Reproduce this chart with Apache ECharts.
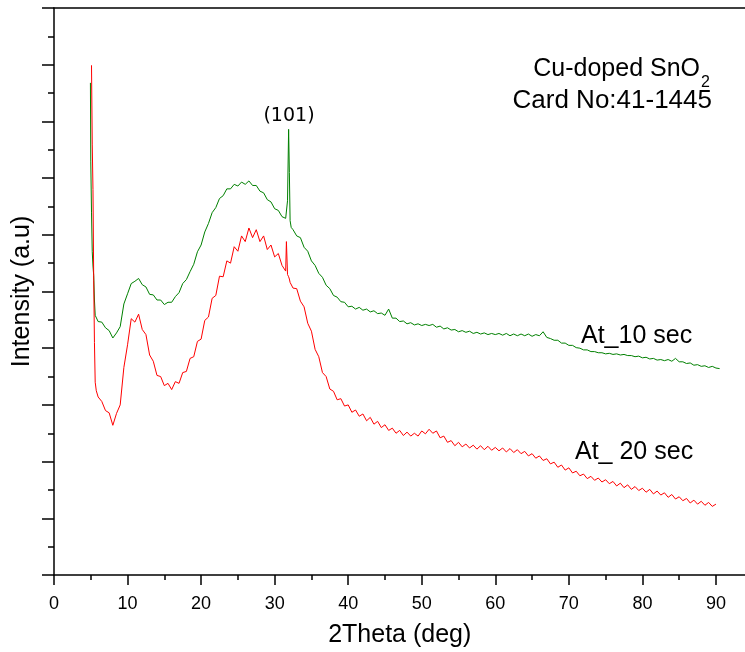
<!DOCTYPE html>
<html>
<head>
<meta charset="utf-8">
<script src="https://cdn.jsdelivr.net/npm/echarts@6/dist/echarts.min.js"></script>
<style>
html,body{margin:0;padding:0;background:#fff;}
#chart{width:745px;height:652px;}
</style>
</head>
<body>
<div id="chart"></div>
<script>
// 2Theta positions (deg)
const twoTheta = [
  4.95, 5.0, 5.1, 5.2, 5.3, 5.4, 5.5, 5.6, 5.75, 6.0,
  6.5, 7.0, 7.5, 8.0, 8.5, 9.0, 9.5, 10.0,
  10.5, 11.0, 11.5, 12.0, 12.5, 13.0, 13.5, 14.0, 14.5, 15.0, 15.5, 16.0, 16.5, 17.0, 17.5, 18.0, 18.5, 19.0, 19.5, 20.0,
  20.5, 21.0, 21.5, 22.0, 22.5, 23.0, 23.5, 24.0, 24.5, 25.0, 25.5, 26.0, 26.5, 27.0, 27.5, 28.0, 28.5, 29.0, 29.5, 30.0,
  30.5, 31.0, 31.5, 31.6, 31.75, 31.9, 32.0, 32.1, 32.25, 32.5, 33.0, 33.5, 34.0, 34.5, 35.0,
  35.5, 36.0, 36.5, 37.0, 37.5, 38.0, 38.5, 39.0, 39.5, 40.0,
  40.5, 41.0, 41.5, 42.0, 42.5, 43.0, 43.5, 44.0, 44.5, 45.0, 45.5, 46.0, 46.5, 47.0, 47.5, 48.0, 48.5, 49.0, 49.5, 50.0,
  50.5, 51.0, 51.5, 52.0, 52.5, 53.0, 53.5, 54.0, 54.5, 55.0, 55.5, 56.0, 56.5, 57.0, 57.5, 58.0, 58.5, 59.0, 59.5, 60.0,
  60.5, 61.0, 61.5, 62.0, 62.5, 63.0, 63.5, 64.0, 64.5, 65.0, 65.5, 66.0, 66.5, 67.0, 67.5, 68.0, 68.5, 69.0, 69.5, 70.0,
  70.5, 71.0, 71.5, 72.0, 72.5, 73.0, 73.5, 74.0, 74.5, 75.0, 75.5, 76.0, 76.5, 77.0, 77.5, 78.0, 78.5, 79.0, 79.5, 80.0,
  80.5, 81.0, 81.5, 82.0, 82.5, 83.0, 83.5, 84.0, 84.5, 85.0, 85.5, 86.0, 86.5, 87.0, 87.5, 88.0, 88.5, 89.0, 89.5, 90.0, 90.5
];
// Intensity (a.u.) At_10 sec (green)
const at10sec = [
  8.68, 7.3, 6.4, 5.7, 5.45, 5.28, 4.85, 4.58, 4.55, 4.47,
  4.46, 4.36, 4.31, 4.18, 4.27, 4.38, 4.78, 4.96,
  5.14, 5.18, 5.23, 5.12, 5.08, 4.95, 4.94, 4.85, 4.85, 4.77, 4.81, 4.81, 4.91, 4.98, 5.14, 5.21, 5.35, 5.48, 5.70, 5.82,
  6.05, 6.20, 6.39, 6.48, 6.64, 6.69, 6.81, 6.81, 6.89, 6.86, 6.93, 6.89, 6.95, 6.87, 6.87, 6.77, 6.74, 6.62, 6.58, 6.46,
  6.43, 6.32, 6.29, 6.26, 6.6, 7.86, 7.1, 6.25, 6.13, 6.09, 5.98, 5.95, 5.78, 5.71, 5.54,
  5.46, 5.32, 5.25, 5.11, 5.05, 4.93, 4.90, 4.82, 4.81, 4.73,
  4.74, 4.69, 4.72, 4.67, 4.69, 4.64, 4.66, 4.61, 4.62, 4.58, 4.69, 4.53, 4.53, 4.47, 4.48, 4.43, 4.45, 4.41, 4.43, 4.40,
  4.42, 4.40, 4.42, 4.37, 4.39, 4.34, 4.36, 4.32, 4.33, 4.29, 4.31, 4.28, 4.30, 4.26, 4.28, 4.25, 4.27, 4.24, 4.26, 4.24,
  4.26, 4.23, 4.26, 4.22, 4.25, 4.22, 4.25, 4.22, 4.25, 4.21, 4.24, 4.22, 4.29, 4.19, 4.17, 4.14, 4.14, 4.09, 4.09, 4.05,
  4.05, 4.01, 4.00, 3.97, 3.97, 3.94, 3.94, 3.92, 3.92, 3.90, 3.91, 3.89, 3.90, 3.88, 3.89, 3.87, 3.87, 3.85, 3.86, 3.83,
  3.84, 3.81, 3.82, 3.79, 3.80, 3.78, 3.80, 3.77, 3.82, 3.76, 3.76, 3.73, 3.74, 3.70, 3.71, 3.68, 3.69, 3.66, 3.68, 3.65, 3.64
];
// Intensity (a.u.) At_ 20 sec (red)
const at20sec = [
  null, null, 8.99, 7.6, 6.8, 5.2, 4.1, 3.4, 3.25, 3.14,
  3.06, 2.90, 2.86, 2.64, 2.85, 3.00, 3.66, 4.06,
  4.52, 4.46, 4.60, 4.33, 4.24, 3.88, 3.77, 3.52, 3.50, 3.34, 3.38, 3.27, 3.41, 3.38, 3.57, 3.59, 3.82, 3.85, 4.12, 4.16,
  4.49, 4.55, 4.88, 4.93, 5.27, 5.26, 5.54, 5.50, 5.79, 5.71, 5.98, 5.88, 6.12, 5.95, 6.09, 5.88, 5.98, 5.74, 5.82, 5.61,
  5.67, 5.46, 5.36, 5.88, 5.30, 5.26, 5.22, 5.16, 5.19, 5.06, 5.05, 4.83, 4.73, 4.44, 4.30,
  3.98, 3.85, 3.57, 3.50, 3.28, 3.24, 3.09, 3.11, 2.98, 3.00,
  2.87, 2.91, 2.80, 2.84, 2.72, 2.78, 2.66, 2.71, 2.60, 2.65, 2.55, 2.59, 2.50, 2.55, 2.46, 2.52, 2.45, 2.50, 2.45, 2.54,
  2.49, 2.57, 2.50, 2.54, 2.42, 2.45, 2.34, 2.37, 2.28, 2.34, 2.26, 2.31, 2.24, 2.29, 2.22, 2.28, 2.21, 2.27, 2.20, 2.25,
  2.19, 2.24, 2.17, 2.23, 2.16, 2.21, 2.14, 2.18, 2.10, 2.14, 2.06, 2.10, 2.02, 2.05, 1.96, 1.99, 1.90, 1.94, 1.85, 1.89,
  1.80, 1.83, 1.75, 1.78, 1.70, 1.74, 1.67, 1.71, 1.64, 1.68, 1.61, 1.65, 1.57, 1.62, 1.54, 1.59, 1.51, 1.56, 1.49, 1.53,
  1.46, 1.51, 1.43, 1.48, 1.41, 1.45, 1.37, 1.42, 1.34, 1.38, 1.31, 1.35, 1.27, 1.32, 1.25, 1.30, 1.23, 1.28, 1.21, 1.25, null
];
const xTickLabels = ['0', '10', '20', '30', '40', '50', '60', '70', '80', '90'];

const FONT = 'Liberation Sans, Arial, sans-serif';
const pairs = (ys) => twoTheta.map((x, i) => [x, ys[i]]).filter(p => p[1] !== null);

const chart = echarts.init(document.getElementById('chart'), null, {renderer: 'canvas'});
chart.setOption({
  animation: false,
  backgroundColor: '#ffffff',
  grid: {left: 54, right: -44.5, top: 8, bottom: 77, containLabel: false, outerBoundsMode: 'none'},
  xAxis: [{
    type: 'value', min: 0, max: 100, interval: 10,
    name: '2Theta (deg)', nameLocation: 'middle', nameGap: 48,
    nameTextStyle: {fontSize: 25, fontFamily: FONT, color: '#000', padding: [0, 44, 0, 0]},
    axisLine: {show: true, lineStyle: {color: '#000', width: 1.5}},
    axisTick: {show: true, inside: false, length: 10, lineStyle: {color: '#000', width: 1.5}},
    minorTick: {show: true, splitNumber: 2, length: 5, lineStyle: {color: '#000', width: 1.5}},
    axisLabel: {show: true, margin: 20, fontSize: 18, fontFamily: FONT, color: '#000',
      formatter: (v) => (xTickLabels.indexOf(String(v)) >= 0 ? String(v) : '')},
    splitLine: {show: false}, minorSplitLine: {show: false}
  }, {
    type: 'value', min: 0, max: 100, position: 'top',
    axisLine: {show: true, lineStyle: {color: '#000', width: 1.5}},
    axisTick: {show: false}, axisLabel: {show: false}, splitLine: {show: false}
  }],
  yAxis: {
    type: 'value', min: 0, max: 10, interval: 1,
    name: 'Intensity (a.u)', nameLocation: 'middle', nameGap: 19,
    nameTextStyle: {fontSize: 25, fontFamily: FONT, color: '#000'},
    axisLine: {show: true, lineStyle: {color: '#000', width: 1.5}},
    axisTick: {show: true, inside: false, length: 12, lineStyle: {color: '#000', width: 1.5}},
    minorTick: {show: true, splitNumber: 2, length: 6, lineStyle: {color: '#000', width: 1.5}},
    axisLabel: {show: false},
    splitLine: {show: false}, minorSplitLine: {show: false}
  },
  series: [{
    name: 'At_10 sec', type: 'line', xAxisIndex: 0, data: pairs(at10sec),
    showSymbol: false, symbol: 'none', smooth: false, sampling: null,
    lineStyle: {color: '#008000', width: 1}, itemStyle: {color: '#008000'}, z: 2
  }, {
    name: 'At_ 20 sec', type: 'line', xAxisIndex: 0, data: pairs(at20sec),
    showSymbol: false, symbol: 'none', smooth: false, sampling: null,
    lineStyle: {color: '#ff0000', width: 1}, itemStyle: {color: '#ff0000'}, z: 3
  }],
  graphic: [
    {type: 'text', x: 700, y: 69, style: {text: 'Cu-doped SnO', fontSize: 25, fontFamily: FONT, fill: '#000', align: 'right', verticalAlign: 'middle'}},
    {type: 'text', x: 701, y: 83, style: {text: '2', fontSize: 16, fontFamily: FONT, fill: '#000', align: 'left', verticalAlign: 'middle'}},
    {type: 'text', x: 712, y: 101, style: {text: 'Card No:41-1445', fontSize: 26, fontFamily: FONT, fill: '#000', align: 'right', verticalAlign: 'middle'}},
    {type: 'text', x: 289, y: 116, style: {text: '(101)', fontSize: 19, fontFamily: 'DejaVu Sans, sans-serif', fill: '#000', align: 'center', verticalAlign: 'middle'}},
    {type: 'text', x: 581, y: 336, style: {text: 'At_10 sec', fontSize: 25, fontFamily: FONT, fill: '#000', align: 'left', verticalAlign: 'middle'}},
    {type: 'text', x: 575, y: 452, style: {text: 'At_ 20 sec', fontSize: 25, fontFamily: FONT, fill: '#000', align: 'left', verticalAlign: 'middle'}}
  ]
});
</script>
</body>
</html>
